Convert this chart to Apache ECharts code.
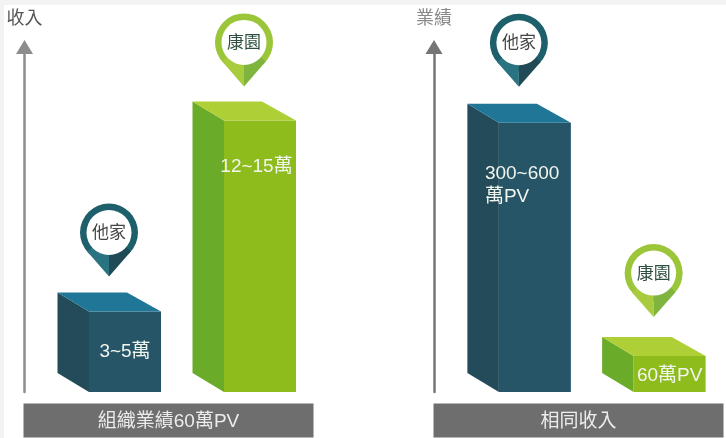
<!DOCTYPE html>
<html>
<head>
<meta charset="utf-8">
<title>收入與業績</title>
<script src="https://cdn.jsdelivr.net/npm/echarts@6/dist/echarts.min.js"></script>
<style>
  html, body { margin: 0; padding: 0; background: #fff; }
  #chart { width: 726px; height: 438px; }
</style>
</head>
<body>
<div id="chart"></div>
<script>
const categories = ['他家', '康園']

// mid point of each quoted range
const incomeValues = [4, 13.5]
const incomeLabels = ['3~5萬', '12~15萬']
const salesValues = [450, 60]
const salesLabels = ['300~600\n萬PV', '60萬PV']

const axisNames = ['收入', '業績']
const bandTitles = ['組織業績60萬PV', '相同收入']

const FONT = '"Liberation Sans", "Noto Sans CJK TC", sans-serif'

const palettes = [
  {front: '#255566', side: '#234b59', top: '#1f7696', ring: '#1d5f6b', tailL: '#2a7381', tailR: '#1f4a56', text: '#444444'},
  {front: '#8dbc1c', side: '#6aab2a', top: '#aecf36', ring: '#9cc63a', tailL: '#a8cc3e', tailR: '#7fb53e', text: '#2e4f3f'}
]

// drawing offsets per bar, in pixels: [pin gap, label dx, label dy]
const incomeOffsets = [[16, 0, 40], [15, -3.5, 46]]
const salesOffsets = [[17, -50, 62], [20, 0, 20]]

const makeRenderItem = (labels, offsets) => (params, api) => {
  const idx = api.value(0)
  const [cx, top] = api.coord([idx, api.value(1)])
  const base = api.coord([idx, 0])[1]
  const pal = palettes[idx]
  const [pinGap, labelDx, labelDy] = offsets[idx]

  const left = cx - 51.5
  const frontL = cx - 20
  const frontR = cx + 52
  const backR = cx + 18
  const depth = 19

  const tipY = top - depth - pinGap
  const pinY = tipY - 44
  const r = 29

  const multiLine = labels[idx].includes('\n')
  return {
    type: 'group',
    children: [
      {type: 'polygon', shape: {points: [[left, top - depth], [frontL, top], [frontL, base], [left, base - depth]]}, style: {fill: pal.side}},
      {type: 'rect', shape: {x: frontL, y: top, width: frontR - frontL, height: base - top}, style: {fill: pal.front}},
      {type: 'polygon', shape: {points: [[left, top - depth], [backR, top - depth], [frontR, top], [frontL, top]]}, style: {fill: pal.top}},
      {type: 'text', x: (frontL + frontR) / 2 + labelDx, y: top + labelDy, style: {
        text: labels[idx], fill: '#f2f5ee', font: '19px ' + FONT,
        align: multiLine ? 'left' : 'center', verticalAlign: 'middle', lineHeight: 23
      }},
      {type: 'circle', shape: {cx: cx, cy: pinY, r: r}, style: {fill: pal.ring}},
      {type: 'polygon', shape: {points: [[cx, tipY], [cx - 21.8, pinY + 19.1], [cx, pinY]]}, style: {fill: pal.tailL}},
      {type: 'polygon', shape: {points: [[cx, tipY], [cx + 21.8, pinY + 19.1], [cx, pinY]]}, style: {fill: pal.tailR}},
      {type: 'circle', shape: {cx: cx, cy: pinY, r: 22.5}, style: {fill: '#fff'}},
      {type: 'text', x: cx, y: pinY + 1, style: {
        text: categories[idx], fill: pal.text, font: '17px ' + FONT,
        align: 'center', verticalAlign: 'middle'
      }}
    ]
  }
}

const hiddenX = (gridIndex) => ({type: 'category', gridIndex: gridIndex, data: categories, show: false})

const valueAxis = (gridIndex, name, max, offset, color, nameColor) => ({
  type: 'value',
  gridIndex: gridIndex,
  min: 0,
  max: max,
  offset: offset,
  name: name,
  nameLocation: 'end',
  nameGap: 26,
  nameTextStyle: {color: nameColor, fontSize: 18, fontFamily: FONT},
  axisLine: {
    show: true,
    symbol: ['none', 'triangle'],
    symbolSize: [17, 14],
    symbolOffset: [0, 7],
    lineStyle: {color: color, width: 2.5}
  },
  axisTick: {show: false},
  axisLabel: {show: false},
  splitLine: {show: false}
})

const band = (x, title) => ({
  type: 'group',
  children: [
    {type: 'rect', shape: {x: x, y: 403.5, width: 290, height: 34}, style: {fill: '#6e6e6e'}},
    {type: 'text', x: x + 145, y: 421.5, style: {
      text: title, fill: '#ececec', font: '19px ' + FONT, align: 'center', verticalAlign: 'middle'
    }}
  ]
})

const chart = echarts.init(document.getElementById('chart'), null, {renderer: 'canvas'})
chart.setOption({
  animation: false,
  backgroundColor: '#f3f3f3',
  graphic: [
    {type: 'rect', z: -10, shape: {x: 4, y: 5, width: 722, height: 433}, style: {fill: '#fff'}},
    band(23.5, bandTitles[0]),
    band(433.5, bandTitles[1])
  ],
  grid: [
    {left: 41.5, width: 270, top: 54, height: 338},
    {left: 451.5, width: 269.5, top: 54, height: 338}
  ],
  xAxis: [hiddenX(0), hiddenX(1)],
  yAxis: [
    valueAxis(0, axisNames[0], 16.8, 17, '#8c8c8c', '#555555'),
    valueAxis(1, axisNames[1], 565, 17.5, '#757575', '#888888')
  ],
  series: [
    {
      type: 'custom', xAxisIndex: 0, yAxisIndex: 0, clip: false,
      renderItem: makeRenderItem(incomeLabels, incomeOffsets),
      data: incomeValues.map((v, i) => [i, v])
    },
    {
      type: 'custom', xAxisIndex: 1, yAxisIndex: 1, clip: false,
      renderItem: makeRenderItem(salesLabels, salesOffsets),
      data: salesValues.map((v, i) => [i, v])
    }
  ]
})
</script>
</body>
</html>
